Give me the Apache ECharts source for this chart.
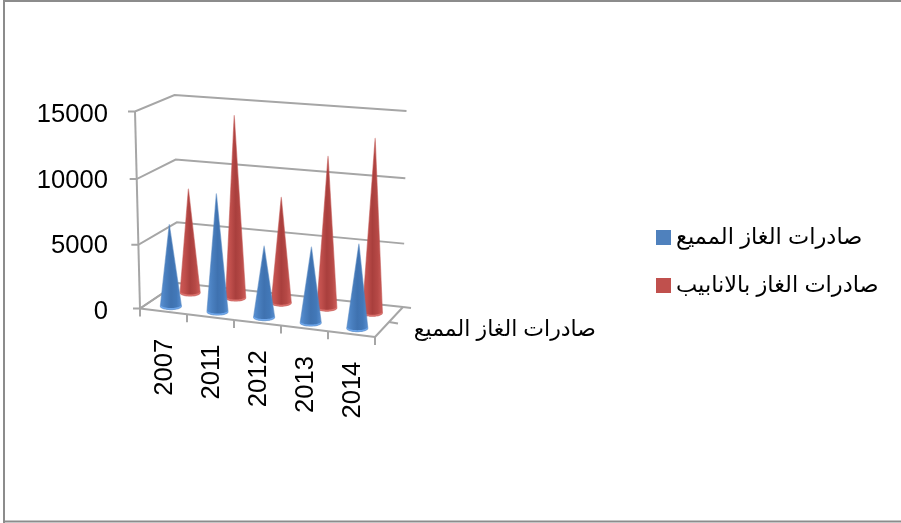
<!DOCTYPE html>
<html>
<head>
<meta charset="utf-8">
<style>html,body{margin:0;padding:0;background:#fff}#chart{width:901px;height:523px}</style>
<script src="https://cdn.jsdelivr.net/npm/echarts@6/dist/echarts.min.js"></script>
</head>
<body>
<div id="chart"></div>
<script>
// Chart data
const years = ['2007', '2011', '2012', '2013', '2014'];
const lngExports = [6400, 9100, 5500, 5800, 6400];
const pipelineExports = [8300, 14200, 8300, 11700, 13300];
const valueTicks = [0, 5000, 10000, 15000];
const lngName = 'صادرات الغاز المميع';
const pipelineName = 'صادرات الغاز بالانابيب';

const FONT = '"Liberation Sans", Arial, "DejaVu Sans", sans-serif';
const AXIS_FONT = '25.6px ' + FONT;
const GRID = { left: 140, top: 112, width: 235, height: 197 };
const GRID_COLOR = '#a6a6a6';

// Projection of the front plane (pixel coordinates from the axes) into the 3D box,
// with a slight bow in the height to stand in for perspective.
function project(px, py, d) {
  const u = (px - GRID.left) / GRID.width;
  const f = (GRID.top + GRID.height - py) / GRID.height;
  const frontX = GRID.left + GRID.width * u, frontY = 308.5 + 28.5 * u;
  const backX = 178 + 225 * u, backY = 283 + 24 * u;
  const lean = (-5 + 10 * u) * (1 - d * 0.3);
  const rise = (197 + 8 * u) * (1 - d) + (188 + 8 * u) * d;
  const bow = 2.2 * 4 * f * (1 - f);
  return [
    frontX + (backX - frontX) * d + lean * f,
    frontY + (backY - frontY) * d - rise * f + bow
  ];
}
// c may fall between categories, so it is stepped from the first band by the band width
const at = (api, c, v, d) => {
  const p = api.coord([0, v]);
  return project(p[0] + c * api.size([1, 0])[0], p[1], d);
};
const line = (pts, color, width) => ({
  type: 'polyline', shape: { points: pts },
  style: { stroke: color || GRID_COLOR, lineWidth: width || 2, fill: null }
});

// Value gridlines: tick, side wall, back wall
function renderWall(params, api) {
  const v = api.value(0);
  const lo = -0.5, hi = years.length - 0.5;
  const a = at(api, lo, v, 0), b = at(api, lo, v, 1), c = at(api, hi, v, 1);
  return { type: 'group', children: [
    line([[a[0] - 7, a[1]], a, b, c])
  ] };
}

// Vertical edge of the side wall
function renderEdge(params, api) {
  return line([at(api, -0.5, 0, 0), at(api, -0.5, 15000, 0)]);
}

// Floor outline, its ticks, the rotated year labels and the depth label
function renderFloor(params, api) {
  const i = api.value(0);
  const children = [];
  const t = at(api, i - 0.5, 0, 0);
  children.push(line([t, [t[0], t[1] + 8]]));
  const n = at(api, i + 0.5, 0, 0);
  children.push(line([t, n]));
  const mid = at(api, i, 0, 0);
  children.push({
    type: 'text', x: mid[0] + 1, y: mid[1] + 27.5, rotation: Math.PI / 2,
    style: { text: years[i], x: 0, y: 0, align: 'right', verticalAlign: 'middle', font: AXIS_FONT, fill: '#000' }
  });
  if (i === years.length - 1) {
    const r0 = at(api, i + 0.5, 0, 0), r1 = at(api, i + 0.5, 0, 0.5), r2 = at(api, i + 0.5, 0, 1);
    const l0 = at(api, -0.5, 0, 0), l1 = at(api, -0.5, 0, 1);
    children.push(
      line([l0, l1]), line([r0, r2]),
      line([r0, [r0[0], r0[1] + 8]]),
      line([r1, [r1[0] + 9, r1[1] + 1.5]]),
      line([r2, [r2[0] + 8, r2[1] + 1]])
    );
    children.push({
      type: 'text', x: 596, y: 330,
      style: { text: lngName, x: 0, y: 0, align: 'right', verticalAlign: 'middle', font: '22px ' + FONT, fill: '#000' }
    });
  }
  return { type: 'group', children };
}

// Cone with an elliptical base, shaded across its width
function coneRenderer(depth, rx, ry, stops, rim, edge) {
  return function (params, api) {
    const c = api.value(0), v = api.value(1);
    const base = at(api, c, 0, depth), apex = at(api, c, v, depth);
    const body = [apex];
    const lowerRim = [];
    for (let k = 0; k <= 24; k++) {
      const th = Math.PI * k / 24;
      const p = [base[0] + rx * Math.cos(th), base[1] + ry * Math.sin(th)];
      body.push(p);
      lowerRim.push(p);
    }
    for (let k = 24; k >= 0; k--) {
      const th = Math.PI * k / 24;
      lowerRim.push([base[0] + rx * Math.cos(th), base[1] + ry * Math.sin(th) - 1.5]);
    }
    const fill = new echarts.graphic.LinearGradient(0, 0, 1, 0,
      stops.map((s, idx) => ({ offset: idx / (stops.length - 1), color: s })));
    return { type: 'group', children: [
      { type: 'polygon', shape: { points: body }, style: { fill, stroke: edge, lineWidth: 1.2, lineJoin: 'round' } },
      { type: 'polygon', shape: { points: lowerRim }, style: { fill: rim } }
    ] };
  };
}

const blueStops = ['#5b93d6', '#4a80c0', '#3f72b0', '#4278b8', '#5a90d2'];
const redStops = ['#cf5a57', '#c04f4c', '#a93f3d', '#b64946', '#d05f5c'];

const chart = echarts.init(document.getElementById('chart'), null, { renderer: 'canvas' });
chart.setOption({
  animation: false,
  backgroundColor: '#fff',
  textStyle: { fontFamily: FONT },
  grid: { left: GRID.left, top: GRID.top, width: GRID.width, height: GRID.height },
  xAxis: {
    type: 'category', data: years,
    axisLine: { show: false }, axisTick: { show: false }, axisLabel: { show: false }, splitLine: { show: false }
  },
  yAxis: {
    type: 'value', min: 0, max: 15000, interval: 5000,
    axisLine: { show: false }, axisTick: { show: false }, splitLine: { show: false },
    axisLabel: { color: '#000', fontSize: 25.6, fontFamily: FONT, margin: 32, verticalAlign: 'top', lineHeight: 6, formatter: v => String(v) }
  },
  legend: {
    orient: 'vertical', left: 651, top: 221, itemWidth: 15, itemHeight: 15, itemGap: 25, icon: 'rect',
    data: [lngName, pipelineName],
    textStyle: { color: '#000', fontSize: 22.5, fontFamily: FONT },
    selectedMode: false
  },
  graphic: [
    { type: 'polyline', silent: true, shape: { points: [[4, 523], [4, 1], [901, 1]] }, style: { stroke: '#8c8c8c', lineWidth: 2, fill: null } },
    { type: 'line', silent: true, shape: { x1: 4, y1: 521.5, x2: 901, y2: 521.5 }, style: { stroke: '#8c8c8c', lineWidth: 2 } }
  ],
  series: [
    { type: 'custom', name: 'edge', silent: true, clip: false, data: [[0]],
      encode: { y: 0 }, renderItem: renderEdge, z: 1 },
    { type: 'custom', name: 'wall', silent: true, clip: false, data: valueTicks.map(v => [v]),
      encode: { y: 0 }, renderItem: renderWall, z: 1 },
    { type: 'custom', name: 'floor', silent: true, clip: false, data: years.map((_, i) => [i]),
      encode: { x: 0 }, renderItem: renderFloor, z: 2 },
    { type: 'custom', name: pipelineName, silent: true, clip: false, itemStyle: { color: '#c0504d' },
      data: pipelineExports.map((v, i) => [i, v]), encode: { x: 0, y: 1 },
      renderItem: coneRenderer(0.72, 10, 3.4, redStops, '#d9706c', 'rgba(192,80,77,0.55)'), z: 3 },
    { type: 'custom', name: lngName, silent: true, clip: false, itemStyle: { color: '#4f81bd' },
      data: lngExports.map((v, i) => [i, v]), encode: { x: 0, y: 1 },
      renderItem: coneRenderer(0.2, 10.5, 3.4, blueStops, '#6ea6ea', 'rgba(79,129,189,0.55)'), z: 4 }
  ]
});
</script>
</body>
</html>
